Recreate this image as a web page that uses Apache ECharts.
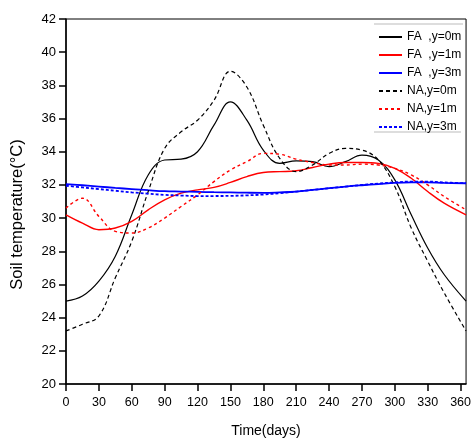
<!DOCTYPE html>
<html>
<head>
<meta charset="utf-8">
<script src="https://cdn.jsdelivr.net/npm/echarts@6/dist/echarts.min.js"></script>
<style>html,body{margin:0;padding:0;background:#fff;}#c{width:474px;height:443px;}</style>
</head>
<body>
<div id="c"></div>
<script>
var days = [0,15,30,45,60,75,90,105,120,135,150,165,180,195,210,225,240,255,270,285,300,315,330,345,365];
var fa0 = [25.0,25.3,26.2,27.7,30.2,32.6,33.5,33.55,34.0,35.6,37.0,35.9,34.1,33.3,33.45,33.4,33.1,33.4,33.8,33.5,32.3,30.2,28.2,26.6,25.0];
var fa1 = [30.2,29.7,29.3,29.4,29.8,30.5,31.1,31.5,31.7,31.85,32.15,32.5,32.75,32.8,32.85,33.05,33.25,33.35,33.35,33.3,33.0,32.4,31.6,30.9,30.2];
var fa3 = [32.05,31.98,31.9,31.82,31.75,31.68,31.62,31.6,31.58,31.56,31.55,31.53,31.52,31.55,31.6,31.7,31.8,31.9,31.98,32.05,32.12,32.15,32.15,32.12,32.1];
var na0 = [23.2,23.6,24.1,26.4,28.6,31.6,34.2,35.2,35.9,37.1,38.85,37.9,35.6,33.6,32.8,33.2,33.9,34.2,34.1,33.5,31.9,29.4,27.4,25.5,23.2];
var na1 = [30.6,31.2,30.1,29.2,29.1,29.4,30.0,30.7,31.4,32.2,32.9,33.4,33.9,33.85,33.55,33.35,33.2,33.2,33.25,33.2,33.0,32.6,32.0,31.3,30.5];
var na3 = [31.95,31.85,31.75,31.65,31.55,31.47,31.4,31.36,31.33,31.33,31.34,31.37,31.42,31.5,31.6,31.7,31.8,31.9,32.0,32.08,32.15,32.2,32.2,32.15,32.1];
var seriesNames = ['FA  ,y=0m','FA  ,y=1m','FA  ,y=3m','NA,y=0m','NA,y=1m','NA,y=3m'];
var xTicks = [0,30,60,90,120,150,180,210,240,270,300,330,360];

function pairs(vals){ return days.map(function(d,i){ return [d, vals[i]]; }); }
function mk(name, vals, color, type, width){
  return {name:name, type:'line', data:pairs(vals), smooth:0.4, symbol:'none',
    lineStyle:{color:color, width:width, type:type}, itemStyle:{color:color}};
}
var chart = echarts.init(document.getElementById('c'), null, {renderer:'canvas'});
chart.setOption({
  animation:false,
  backgroundColor:'#fff',
  grid:{left:66, right:5, top:19, bottom:58, show:true, borderColor:'#000', borderWidth:1},
  legend:{left:378, top:31, orient:'vertical', itemWidth:23, itemHeight:14, itemGap:6, padding:0,
    itemStyle:{opacity:0},
    textStyle:{fontFamily:'Liberation Sans, Arial', fontSize:12, color:'#000'},
    data:seriesNames},
  graphic:[
    {type:'line', shape:{x1:374,y1:24,x2:463,y2:24}, style:{stroke:'#bbb', lineWidth:1}},
    {type:'line', shape:{x1:374,y1:132,x2:461,y2:132}, style:{stroke:'#bbb', lineWidth:1}}
  ],
  xAxis:{type:'value', min:0, max:365,
    name:'Time(days)', nameLocation:'middle', nameGap:40,
    nameTextStyle:{fontFamily:'Liberation Sans, Arial', fontSize:14, color:'#000'},
    axisLine:{lineStyle:{color:'#000', width:1.5}},
    axisTick:{customValues:xTicks, length:7, inside:false, lineStyle:{color:'#000', width:1.5}},
    axisLabel:{customValues:xTicks, margin:12, fontFamily:'Liberation Sans, Arial', fontSize:12.5, color:'#000'},
    splitLine:{show:false}},
  yAxis:{type:'value', min:20, max:42, interval:2,
    name:'Soil temperature(°C)', nameLocation:'middle', nameGap:40, nameRotate:90,
    nameTextStyle:{fontFamily:'Liberation Sans, Arial', fontSize:16.5, color:'#000', padding:[0,26,0,0]},
    axisLine:{show:true, lineStyle:{color:'#000', width:1.5}},
    axisTick:{show:true, length:7, inside:false, lineStyle:{color:'#000', width:1.5}},
    axisLabel:{margin:10, fontFamily:'Liberation Sans, Arial', fontSize:13, color:'#000'},
    splitLine:{show:false}},
  series:[
    mk(seriesNames[0], fa0, '#000000', 'solid', 1.2),
    mk(seriesNames[1], fa1, '#ff0000', 'solid', 1.4),
    mk(seriesNames[2], fa3, '#0000ff', 'solid', 1.8),
    mk(seriesNames[3], na0, '#000000', [4,3], 1.2),
    mk(seriesNames[4], na1, '#ff0000', [3,3], 1.4),
    mk(seriesNames[5], na3, '#0000ff', [3,2], 1.8)
  ]
});
</script>
</body>
</html>
